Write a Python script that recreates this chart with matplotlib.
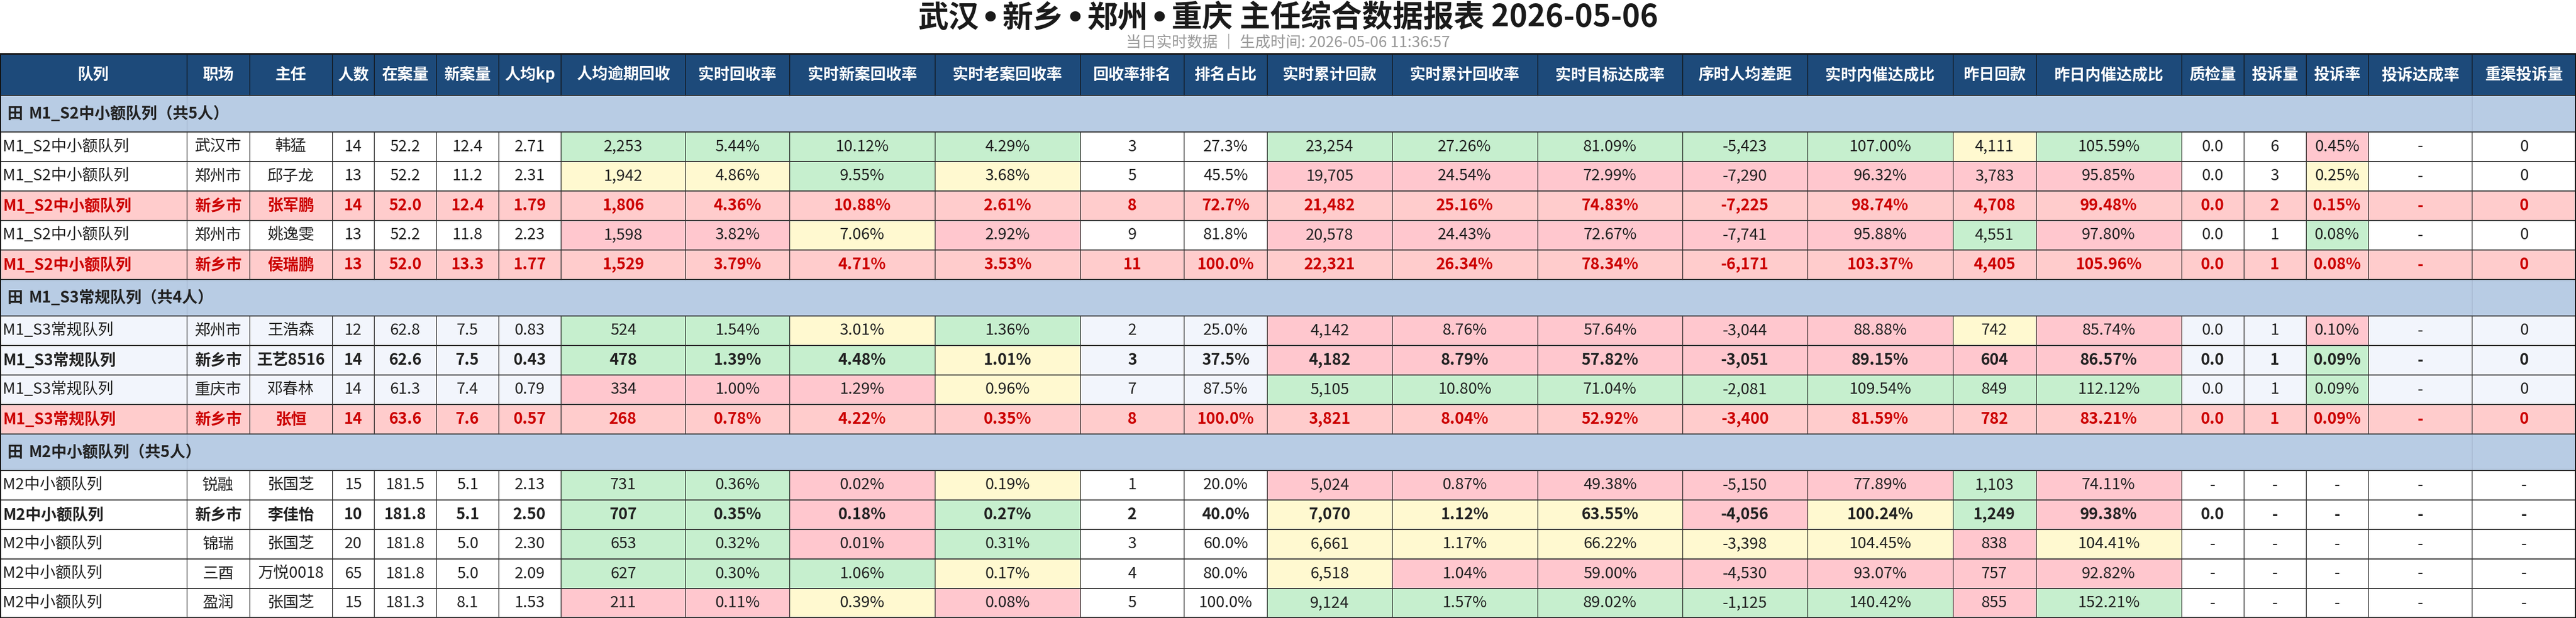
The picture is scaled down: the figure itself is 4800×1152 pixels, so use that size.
import matplotlib
matplotlib.use("Agg")
import matplotlib.pyplot as plt
from matplotlib.patches import Rectangle

plt.rcParams['font.family'] = ['Noto Sans CJK SC', 'DejaVu Sans']

title_parts = ["武汉", "新乡", "郑州", "重庆 主任综合数据报表 2026-05-06"]
subtitle = "当日实时数据 ｜ 生成时间: 2026-05-06 11:36:57"

headers = ["队列", "职场", "主任", "人数", "在案量", "新案量", "人均kp", "人均逾期回收",
           "实时回收率", "实时新案回收率", "实时老案回收率", "回收率排名", "排名占比",
           "实时累计回款", "实时累计回收率", "实时目标达成率", "序时人均差距",
           "实时内催达成比", "昨日回款", "昨日内催达成比", "质检量", "投诉量",
           "投诉率", "投诉达成率", "重渠投诉量"]

# relative column widths
col_units = [9, 3, 4, 2, 3, 3, 3, 6, 5, 7, 7, 5, 4, 6, 7, 7, 6, 7, 4, 7, 3, 3, 3, 5, 5]

group_names = ["M1_S2中小额队列（共5人）", "M1_S3常规队列（共4人）", "M2中小额队列（共5人）"]

g1_rows = [
    ["M1_S2中小额队列", "武汉市", "韩猛", "14", "52.2", "12.4", "2.71", "2,253", "5.44%", "10.12%", "4.29%", "3", "27.3%",
     "23,254", "27.26%", "81.09%", "-5,423", "107.00%", "4,111", "105.59%", "0.0", "6", "0.45%", "-", "0"],
    ["M1_S2中小额队列", "郑州市", "邱子龙", "13", "52.2", "11.2", "2.31", "1,942", "4.86%", "9.55%", "3.68%", "5", "45.5%",
     "19,705", "24.54%", "72.99%", "-7,290", "96.32%", "3,783", "95.85%", "0.0", "3", "0.25%", "-", "0"],
    ["M1_S2中小额队列", "新乡市", "张军鹏", "14", "52.0", "12.4", "1.79", "1,806", "4.36%", "10.88%", "2.61%", "8", "72.7%",
     "21,482", "25.16%", "74.83%", "-7,225", "98.74%", "4,708", "99.48%", "0.0", "2", "0.15%", "-", "0"],
    ["M1_S2中小额队列", "郑州市", "姚逸雯", "13", "52.2", "11.8", "2.23", "1,598", "3.82%", "7.06%", "2.92%", "9", "81.8%",
     "20,578", "24.43%", "72.67%", "-7,741", "95.88%", "4,551", "97.80%", "0.0", "1", "0.08%", "-", "0"],
    ["M1_S2中小额队列", "新乡市", "侯瑞鹏", "13", "52.0", "13.3", "1.77", "1,529", "3.79%", "4.71%", "3.53%", "11", "100.0%",
     "22,321", "26.34%", "78.34%", "-6,171", "103.37%", "4,405", "105.96%", "0.0", "1", "0.08%", "-", "0"],
]
# cell fill codes: G green, Y yellow, R red, . none
g1_fill = [".......GGGG..GGGGGYG..R..",
           ".......YYGY..RRRRRRR..Y..",
           ".........................",
           ".......RRYR..RRRRRGR..G..",
           "........................."]
g1_style = ["n", "n", "r", "n", "r"]

g2_rows = [
    ["M1_S3常规队列", "郑州市", "王浩森", "12", "62.8", "7.5", "0.83", "524", "1.54%", "3.01%", "1.36%", "2", "25.0%",
     "4,142", "8.76%", "57.64%", "-3,044", "88.88%", "742", "85.74%", "0.0", "1", "0.10%", "-", "0"],
    ["M1_S3常规队列", "新乡市", "王艺8516", "14", "62.6", "7.5", "0.43", "478", "1.39%", "4.48%", "1.01%", "3", "37.5%",
     "4,182", "8.79%", "57.82%", "-3,051", "89.15%", "604", "86.57%", "0.0", "1", "0.09%", "-", "0"],
    ["M1_S3常规队列", "重庆市", "邓春林", "14", "61.3", "7.4", "0.79", "334", "1.00%", "1.29%", "0.96%", "7", "87.5%",
     "5,105", "10.80%", "71.04%", "-2,081", "109.54%", "849", "112.12%", "0.0", "1", "0.09%", "-", "0"],
    ["M1_S3常规队列", "新乡市", "张恒", "14", "63.6", "7.6", "0.57", "268", "0.78%", "4.22%", "0.35%", "8", "100.0%",
     "3,821", "8.04%", "52.92%", "-3,400", "81.59%", "782", "83.21%", "0.0", "1", "0.09%", "-", "0"],
]
g2_fill = [".......GGYG..RRRRRYR..R..",
           ".......GGGY..RRRRRRR..G..",
           ".......RRRY..GGGGGGG..G..",
           "........................."]
g2_style = ["n", "b", "n", "r"]

g3_rows = [
    ["M2中小额队列", "锐融", "张国芝", "15", "181.5", "5.1", "2.13", "731", "0.36%", "0.02%", "0.19%", "1", "20.0%",
     "5,024", "0.87%", "49.38%", "-5,150", "77.89%", "1,103", "74.11%", "-", "-", "-", "-", "-"],
    ["M2中小额队列", "新乡市", "李佳怡", "10", "181.8", "5.1", "2.50", "707", "0.35%", "0.18%", "0.27%", "2", "40.0%",
     "7,070", "1.12%", "63.55%", "-4,056", "100.24%", "1,249", "99.38%", "0.0", "-", "-", "-", "-"],
    ["M2中小额队列", "锦瑞", "张国芝", "20", "181.8", "5.0", "2.30", "653", "0.32%", "0.01%", "0.31%", "3", "60.0%",
     "6,661", "1.17%", "66.22%", "-3,398", "104.45%", "838", "104.41%", "-", "-", "-", "-", "-"],
    ["M2中小额队列", "三酉", "万悦0018", "65", "181.8", "5.0", "2.09", "627", "0.30%", "1.06%", "0.17%", "4", "80.0%",
     "6,518", "1.04%", "59.00%", "-4,530", "93.07%", "757", "92.82%", "-", "-", "-", "-", "-"],
    ["M2中小额队列", "盈润", "张国芝", "15", "181.3", "8.1", "1.53", "211", "0.11%", "0.39%", "0.08%", "5", "100.0%",
     "9,124", "1.57%", "89.02%", "-1,125", "140.42%", "855", "152.21%", "-", "-", "-", "-", "-"],
]
g3_fill = [".......GGRY..RRRRRGR.....",
           ".......GGRG..YYYRYGR.....",
           ".......GGRG..YYYYYRY.....",
           ".......GGGY..YRRRRRR.....",
           ".......RRYR..GGGGGRG....."]
g3_style = ["n", "b", "n", "n", "n"]

groups = [(group_names[0], g1_rows, g1_fill, g1_style, "#FFFFFF"),
          (group_names[1], g2_rows, g2_fill, g2_style, "#F2F5FC"),
          (group_names[2], g3_rows, g3_fill, g3_style, "#FFFFFF")]

fills = {"G": "#C6EFCE", "Y": "#FFF9D0", "R": "#FFC7CE"}
HEAD_BG = "#1D4A7A"
GROUP_BG = "#B8CCE4"
RED_ROW = "#FFCCCC"
RED_TXT = "#CC0000"
TXT = "#222222"

W, H = 4800, 1152
top = 100
head_h = 78
group_h = 68
row_h = 55
px = 0.72  # one pixel in points at dpi 100

scale = W / sum(col_units)
xs = [0]
for u in col_units:
    xs.append(xs[-1] + u * scale)

fig = plt.figure(figsize=(W / 100, H / 100), dpi=100)
ax = fig.add_axes([0, 0, 1, 1])
ax.set_xlim(0, W)
ax.set_ylim(H, 0)
ax.axis("off")
renderer = fig.canvas.get_renderer()

fs = 21

# title: pieces joined by tight bullets, centred as a whole
pieces = []
for i, part in enumerate(title_parts):
    if i > 0:
        pieces.append(ax.text(0, 51, "•", ha="left", va="baseline", fontsize=40,
                              fontweight="bold", family="DejaVu Sans", color="#1a1a1a"))
    pieces.append(ax.text(0, 51, part, ha="left", va="baseline", fontsize=41,
                          fontweight="bold", color="#1a1a1a"))
gap = 4
widths = [t.get_window_extent(renderer).width for t in pieces]
total = sum(widths) + gap * (len(pieces) - 1)
x = W / 2 - total / 2
for t, w in zip(pieces, widths):
    t.set_x(x)
    x += w + gap

ax.text(W / 2, 80, subtitle, ha="center", va="center", fontsize=20.5, color="#999999")

# header
y = top
for i, h in enumerate(headers):
    ax.add_patch(Rectangle((xs[i], y), xs[i + 1] - xs[i], head_h, facecolor=HEAD_BG, edgecolor="none"))
    ax.text((xs[i] + xs[i + 1]) / 2, y + head_h / 2, h, ha="center", va="center",
            fontsize=fs, fontweight="bold", color="white")
for x in xs[1:-1]:
    ax.plot([x, x], [y, y + head_h], color="#111111", lw=1.3 * px)
ax.plot([0, W], [y, y], color="#111111", lw=3 * px)
y += head_h

for gname, rows, fill, style, plain in groups:
    # group banner
    ax.add_patch(Rectangle((0, y), W, group_h, facecolor=GROUP_BG, edgecolor="none"))
    ax.plot([xs[1], xs[1]], [y, y + group_h], color="#9AAAC2", lw=1 * px)
    ax.plot([xs[-2], xs[-2]], [y, y + group_h], color="#9AAAC2", lw=1 * px)
    ax.text(14, y + group_h / 2, "田", ha="left", va="center",
            fontsize=fs, fontweight="bold", color=TXT)
    ax.text(53, y + group_h / 2, gname, ha="left", va="center",
            fontsize=fs, fontweight="bold", color=TXT)
    ax.plot([0, W], [y, y], color="#333333", lw=2 * px)
    y += group_h
    for r, row in enumerate(rows):
        st = style[r]
        for c, val in enumerate(row):
            code = fill[r][c] if c < len(fill[r]) else "."
            if st == "r":
                bg = RED_ROW
            elif code in fills:
                bg = fills[code]
            else:
                bg = plain
            ax.add_patch(Rectangle((xs[c], y), xs[c + 1] - xs[c], row_h, facecolor=bg, edgecolor="none"))
            color = RED_TXT if st == "r" else TXT
            weight = "bold" if st in ("r", "b") else "normal"
            if c == 0:
                ax.text(xs[c] + 5, y + row_h / 2, val, ha="left", va="center",
                        fontsize=fs, fontweight=weight, color=color)
            else:
                ax.text((xs[c] + xs[c + 1]) / 2, y + row_h / 2, val, ha="center", va="center",
                        fontsize=fs, fontweight=weight, color=color)
        for x in xs[1:-1]:
            ax.plot([x, x], [y, y + row_h], color="#111111", lw=1.2 * px)
        ax.plot([0, W], [y, y], color="#333333", lw=2 * px)
        y += row_h

ax.plot([0, W], [y - 1, y - 1], color="#333333", lw=2 * px)
ax.plot([1, 1], [top, H], color="#111111", lw=2 * px)
ax.plot([W - 1, W - 1], [top, H], color="#111111", lw=2 * px)

fig.savefig("out.png", dpi=100)
